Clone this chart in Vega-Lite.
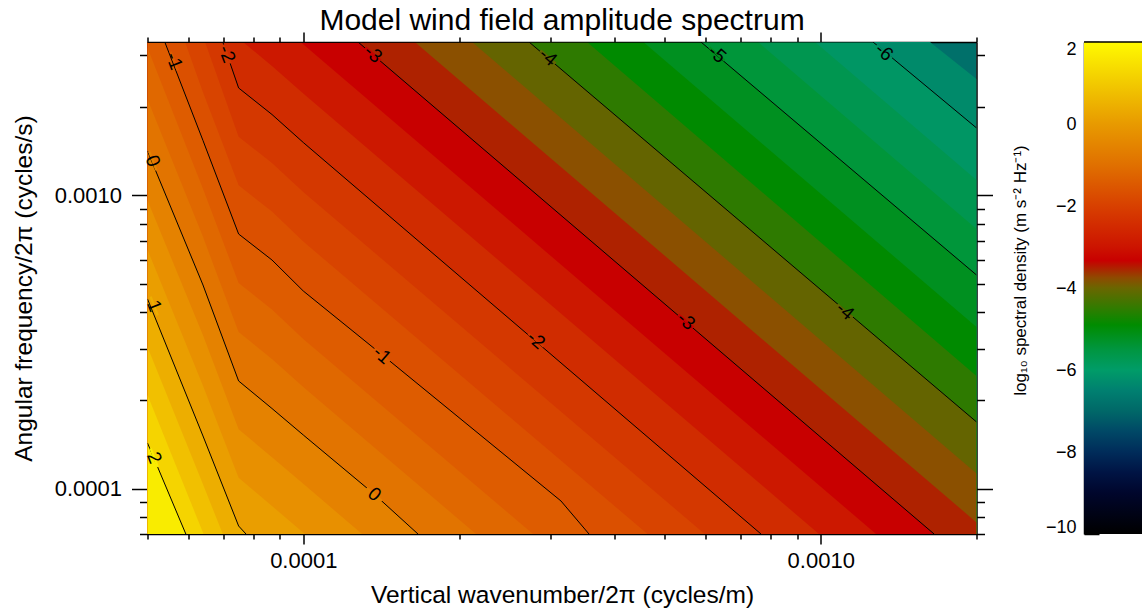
{
  "$schema": "https://vega.github.io/schema/vega-lite/v6.json",
  "background": "white",
  "autosize": {"type": "pad"},
  "padding": {"left": 10.5, "top": 6, "right": 0, "bottom": 4},
  "config": {
    "font": "Liberation Sans",
    "view": {"stroke": null},
    "axis": {"domainColor": "black", "tickColor": "black", "labelColor": "black", "titleColor": "black", "grid": false, "labelFont": "Liberation Sans", "titleFont": "Liberation Sans", "titleFontWeight": "normal", "domainWidth": 1.5, "tickWidth": 1.5, "labelFlush": false, "labelOverlap": false}
  },
  "datasets": {
    "bands": [
      {"lvl": -6.333, "k": 5e-5, "w": 3.33e-3}, {"lvl": -6.333, "k": 1.626e-3, "w": 3.33e-3}, {"lvl": -6.333, "k": 2e-3, "w": 2.491e-3},
      {"lvl": -6, "k": 5e-5, "w": 3.33e-3}, {"lvl": -6, "k": 1.262e-3, "w": 3.33e-3}, {"lvl": -6, "k": 2e-3, "w": 1.696e-3},
      {"lvl": -5.667, "k": 5e-5, "w": 3.33e-3}, {"lvl": -5.667, "k": 9.748e-4, "w": 3.33e-3}, {"lvl": -5.667, "k": 2e-3, "w": 1.127e-3},
      {"lvl": -5.333, "k": 5e-5, "w": 3.33e-3}, {"lvl": -5.333, "k": 7.564e-4, "w": 3.33e-3}, {"lvl": -5.333, "k": 2e-3, "w": 7.673e-4},
      {"lvl": -5, "k": 5e-5, "w": 3.33e-3}, {"lvl": -5, "k": 5.869e-4, "w": 3.33e-3}, {"lvl": -5, "k": 2e-3, "w": 5.347e-4},
      {"lvl": -4.667, "k": 5e-5, "w": 3.33e-3}, {"lvl": -4.667, "k": 4.541e-4, "w": 3.33e-3}, {"lvl": -4.667, "k": 2e-3, "w": 3.555e-4},
      {"lvl": -4.333, "k": 5e-5, "w": 3.33e-3}, {"lvl": -4.333, "k": 3.535e-4, "w": 3.33e-3}, {"lvl": -4.333, "k": 2e-3, "w": 2.420e-4},
      {"lvl": -4, "k": 5e-5, "w": 3.33e-3}, {"lvl": -4, "k": 2.731e-4, "w": 3.33e-3}, {"lvl": -4, "k": 2e-3, "w": 1.687e-4},
      {"lvl": -3.667, "k": 5e-5, "w": 3.33e-3}, {"lvl": -3.667, "k": 2.119e-4, "w": 3.33e-3}, {"lvl": -3.667, "k": 2e-3, "w": 1.126e-4},
      {"lvl": -3.333, "k": 5e-5, "w": 3.33e-3}, {"lvl": -3.333, "k": 1.643e-4, "w": 3.33e-3}, {"lvl": -3.333, "k": 2e-3, "w": 7.668e-5},
      {"lvl": -3, "k": 5e-5, "w": 3.33e-3}, {"lvl": -3, "k": 1.276e-4, "w": 3.33e-3}, {"lvl": -3, "k": 1.656e-3, "w": 7e-5},
      {"lvl": -2.667, "k": 5e-5, "w": 3.33e-3}, {"lvl": -2.667, "k": 9.88e-5, "w": 3.33e-3}, {"lvl": -2.667, "k": 1.279e-3, "w": 7e-5},
      {"lvl": -2.333, "k": 5e-5, "w": 3.33e-3}, {"lvl": -2.333, "k": 7.65e-5, "w": 3.33e-3}, {"lvl": -2.333, "k": 8.70e-5, "w": 2.759e-3}, {"lvl": -2.333, "k": 1e-4, "w": 2.223e-3}, {"lvl": -2.333, "k": 9.923e-4, "w": 7e-5},
      {"lvl": -2, "k": 5e-5, "w": 3.33e-3}, {"lvl": -2, "k": 6.99e-5, "w": 3.33e-3}, {"lvl": -2, "k": 7.50e-5, "w": 2.321e-3}, {"lvl": -2, "k": 8.70e-5, "w": 1.885e-3}, {"lvl": -2, "k": 1e-4, "w": 1.513e-3}, {"lvl": -2, "k": 7.666e-4, "w": 7e-5},
      {"lvl": -1.667, "k": 5e-5, "w": 3.33e-3}, {"lvl": -1.667, "k": 6.46e-5, "w": 3.33e-3}, {"lvl": -1.667, "k": 7.50e-5, "w": 1.584e-3}, {"lvl": -1.667, "k": 8.70e-5, "w": 1.288e-3}, {"lvl": -1.667, "k": 1e-4, "w": 1.026e-3}, {"lvl": -1.667, "k": 5.967e-4, "w": 7e-5},
      {"lvl": -1.333, "k": 5e-5, "w": 3.33e-3}, {"lvl": -1.333, "k": 5.91e-5, "w": 3.33e-3}, {"lvl": -1.333, "k": 6.40e-5, "w": 2.244e-3}, {"lvl": -1.333, "k": 7.50e-5, "w": 1.081e-3}, {"lvl": -1.333, "k": 8.70e-5, "w": 8.802e-4}, {"lvl": -1.333, "k": 1e-4, "w": 6.955e-4}, {"lvl": -1.333, "k": 4.627e-4, "w": 7e-5},
      {"lvl": -1, "k": 5e-5, "w": 3.33e-3}, {"lvl": -1, "k": 5.40e-5, "w": 3.33e-3}, {"lvl": -1, "k": 6.40e-5, "w": 1.537e-3}, {"lvl": -1, "k": 7.50e-5, "w": 7.376e-4}, {"lvl": -1, "k": 8.70e-5, "w": 6.015e-4}, {"lvl": -1, "k": 1e-4, "w": 4.716e-4}, {"lvl": -1, "k": 1.445e-4, "w": 2.788e-4}, {"lvl": -1, "k": 3.148e-4, "w": 9.070e-5}, {"lvl": -1, "k": 3.566e-4, "w": 7e-5},
      {"lvl": -0.667, "k": 5e-5, "w": 3.185e-3}, {"lvl": -0.667, "k": 6.40e-5, "w": 1.053e-3}, {"lvl": -0.667, "k": 7.50e-5, "w": 5.021e-4}, {"lvl": -0.667, "k": 8.70e-5, "w": 4.078e-4}, {"lvl": -0.667, "k": 1e-4, "w": 3.235e-4}, {"lvl": -0.667, "k": 2.780e-4, "w": 7e-5},
      {"lvl": -0.333, "k": 5e-5, "w": 2.124e-3}, {"lvl": -0.333, "k": 6.40e-5, "w": 7.216e-4}, {"lvl": -0.333, "k": 7.50e-5, "w": 3.418e-4}, {"lvl": -0.333, "k": 8.70e-5, "w": 2.766e-4}, {"lvl": -0.333, "k": 1e-4, "w": 2.220e-4}, {"lvl": -0.333, "k": 2.157e-4, "w": 7e-5},
      {"lvl": 0, "k": 5e-5, "w": 1.415e-3}, {"lvl": 0, "k": 6.40e-5, "w": 4.943e-4}, {"lvl": 0, "k": 7.50e-5, "w": 2.327e-4}, {"lvl": 0, "k": 8.70e-5, "w": 1.875e-4}, {"lvl": 0, "k": 1e-4, "w": 1.523e-4}, {"lvl": 0, "k": 1.370e-4, "w": 9.583e-5}, {"lvl": 0, "k": 1.666e-4, "w": 7e-5},
      {"lvl": 0.333, "k": 5e-5, "w": 9.611e-4}, {"lvl": 0.333, "k": 6.40e-5, "w": 3.331e-4}, {"lvl": 0.333, "k": 7.50e-5, "w": 1.593e-4}, {"lvl": 0.333, "k": 8.70e-5, "w": 1.278e-4}, {"lvl": 0.333, "k": 1e-4, "w": 1.038e-4}, {"lvl": 0.333, "k": 1.299e-4, "w": 7e-5},
      {"lvl": 0.667, "k": 5e-5, "w": 6.524e-4}, {"lvl": 0.667, "k": 6.40e-5, "w": 2.243e-4}, {"lvl": 0.667, "k": 7.50e-5, "w": 1.089e-4}, {"lvl": 0.667, "k": 8.70e-5, "w": 8.721e-5}, {"lvl": 0.667, "k": 1.007e-4, "w": 7e-5},
      {"lvl": 1, "k": 5e-5, "w": 4.430e-4}, {"lvl": 1, "k": 6.40e-5, "w": 1.511e-4}, {"lvl": 1, "k": 7.50e-5, "w": 7.454e-5}, {"lvl": 1, "k": 7.75e-5, "w": 7e-5},
      {"lvl": 1.333, "k": 5e-5, "w": 3.038e-4}, {"lvl": 1.333, "k": 6.40e-5, "w": 1.034e-4}, {"lvl": 1.333, "k": 6.99e-5, "w": 7e-5},
      {"lvl": 1.667, "k": 5e-5, "w": 2.085e-4}, {"lvl": 1.667, "k": 6.415e-5, "w": 7e-5},
      {"lvl": 2, "k": 5e-5, "w": 1.430e-4}, {"lvl": 2, "k": 5.93e-5, "w": 7e-5}
    ],
    "labelsSteep": [
      {"k": 5.63e-5, "w": 2.869e-3, "lvl": -1, "t": "-1"},
      {"k": 7.12e-5, "w": 3.031e-3, "lvl": -2, "t": "-2"},
      {"k": 5.12e-5, "w": 1.309e-3, "lvl": 0, "t": "0"},
      {"k": 5.15e-5, "w": 4.191e-4, "lvl": 1, "t": "1"},
      {"k": 5.15e-5, "w": 1.274e-4, "lvl": 2, "t": "2"}
    ],
    "labelsDiag": [
      {"k": 1.364e-4, "w": 3.031e-3, "lvl": -3, "t": "-3"},
      {"k": 2.971e-4, "w": 2.960e-3, "lvl": -4, "t": "-4"},
      {"k": 6.302e-4, "w": 3.031e-3, "lvl": -5, "t": "-5"},
      {"k": 1.325e-3, "w": 3.079e-3, "lvl": -6, "t": "-6"},
      {"k": 1.372e-4, "w": 9.560e-5, "lvl": 0, "t": "0"},
      {"k": 1.420e-4, "w": 2.853e-4, "lvl": -1, "t": "-1"},
      {"k": 2.817e-4, "w": 3.210e-4, "lvl": -2, "t": "-2"},
      {"k": 5.490e-4, "w": 3.726e-4, "lvl": -3, "t": "-3"},
      {"k": 1.114e-3, "w": 4.030e-4, "lvl": -4, "t": "-4"}
    ],
    "cbar": [{"lo": -10, "hi": 2}]
  },
  "hconcat": [
    {
      "width": 829,
      "height": 492,
      "title": {"text": "Model wind field amplitude spectrum", "fontSize": 30, "font": "Liberation Sans", "fontWeight": "normal", "color": "black", "offset": -5},
      "view": {"fill": "#00706A", "stroke": null},
      "layer": [
        {
          "data": {"name": "bands"},
          "mark": {"type": "area", "clip": true, "interpolate": "linear"},
          "encoding": {
            "x": {"field": "k", "type": "quantitative", "scale": {"type": "log", "domain": [5e-5, 2e-3], "nice": false},
              "axis": {"orient": "bottom", "values": [5e-5, 6e-5, 7e-5, 8e-5, 9e-5, 1e-4, 2e-4, 3e-4, 4e-4, 5e-4, 6e-4, 7e-4, 8e-4, 9e-4, 1e-3, 2e-3],
                "labelExpr": "abs(datum.value-0.0001)<1e-9 ? '0.0001' : (abs(datum.value-0.001)<1e-9 ? '0.0010' : '')",
                "tickSize": {"condition": {"test": "abs(datum.value-0.0001)<1e-9 || abs(datum.value-0.001)<1e-9", "value": 10}, "value": 5},
                "labelFontSize": 22, "labelPadding": 6, "title": "Vertical wavenumber/2π (cycles/m)", "titleFontSize": 24.5, "titlePadding": 12}},
            "y": {"field": "w", "type": "quantitative", "scale": {"type": "log", "domain": [7e-5, 3.33e-3], "nice": false},
              "axis": {"orient": "left", "values": [7e-5, 8e-5, 9e-5, 1e-4, 2e-4, 3e-4, 4e-4, 5e-4, 6e-4, 7e-4, 8e-4, 9e-4, 1e-3, 2e-3, 3e-3],
                "labelExpr": "abs(datum.value-0.0001)<1e-9 ? '0.0001' : (abs(datum.value-0.001)<1e-9 ? '0.0010' : '')",
                "tickSize": {"condition": {"test": "abs(datum.value-0.0001)<1e-9 || abs(datum.value-0.001)<1e-9", "value": 16}, "value": 8},
                "labelFontSize": 22, "labelPadding": 10, "title": "Angular frequency/2π (cycles/s)", "titleFontSize": 24.5, "titlePadding": 18}},
            "y2": {"datum": 1e-5},
            "color": {"field": "lvl", "type": "nominal", "legend": null,
              "scale": {"domain": [-6.333, -6, -5.667, -5.333, -5, -4.667, -4.333, -4, -3.667, -3.333, -3, -2.667, -2.333, -2, -1.667, -1.333, -1, -0.667, -0.333, 0, 0.333, 0.667, 1, 1.333, 1.667, 2],
                "range": ["#008A6A", "#009664", "#009650", "#00963A", "#009020", "#008A00", "#2E7A00", "#646400", "#8B5000", "#AE2200", "#C80000", "#CC1800", "#D02C00", "#D43800", "#D84400", "#DB5000", "#DE5C00", "#E06800", "#E27400", "#E58200", "#E89000", "#EA9E00", "#EDAE00", "#F1C000", "#F5D400", "#F9EC00"]}}
          }
        },
        {
          "data": {"name": "bands"},
          "transform": [{"filter": "abs(datum.lvl - round(datum.lvl)) < 0.01"}],
          "mark": {"type": "line", "clip": true, "color": "black", "strokeWidth": 1},
          "encoding": {
            "x": {"field": "k", "type": "quantitative",
              "axis": {"orient": "top", "values": [5e-5, 6e-5, 7e-5, 8e-5, 9e-5, 1e-4, 2e-4, 3e-4, 4e-4, 5e-4, 6e-4, 7e-4, 8e-4, 9e-4, 1e-3, 2e-3], "labels": false, "title": null,
                "tickSize": {"condition": {"test": "abs(datum.value-0.0001)<1e-9 || abs(datum.value-0.001)<1e-9", "value": 10}, "value": 5}}},
            "y": {"field": "w", "type": "quantitative",
              "axis": {"orient": "right", "values": [7e-5, 8e-5, 9e-5, 1e-4, 2e-4, 3e-4, 4e-4, 5e-4, 6e-4, 7e-4, 8e-4, 9e-4, 1e-3, 2e-3, 3e-3], "labels": false, "title": null,
                "tickSize": {"condition": {"test": "abs(datum.value-0.0001)<1e-9 || abs(datum.value-0.001)<1e-9", "value": 16}, "value": 8}}},
            "detail": {"field": "lvl", "type": "nominal"}
          }
        },
        {
          "data": {"name": "labelsSteep"},
          "mark": {"type": "point", "shape": "M-1,-0.12L1,-0.12L1,0.12L-1,0.12Z", "angle": 69, "size": 400, "filled": true, "opacity": 1, "strokeWidth": 0},
          "encoding": {
            "x": {"field": "k", "type": "quantitative", "axis": null},
            "y": {"field": "w", "type": "quantitative", "axis": null},
            "color": {"field": "lvl", "type": "nominal", "legend": null}
          }
        },
        {
          "data": {"name": "labelsDiag"},
          "mark": {"type": "point", "shape": "M-1,-0.12L1,-0.12L1,0.12L-1,0.12Z", "angle": 40.5, "size": 400, "filled": true, "opacity": 1, "strokeWidth": 0},
          "encoding": {
            "x": {"field": "k", "type": "quantitative", "axis": null},
            "y": {"field": "w", "type": "quantitative", "axis": null},
            "color": {"field": "lvl", "type": "nominal", "legend": null}
          }
        },
        {
          "data": {"name": "labelsSteep"},
          "mark": {"type": "text", "angle": 69, "fontSize": 19, "font": "Liberation Sans", "color": "black", "align": "center", "baseline": "middle"},
          "encoding": {
            "x": {"field": "k", "type": "quantitative", "axis": null},
            "y": {"field": "w", "type": "quantitative", "axis": null},
            "text": {"field": "t"}
          }
        },
        {
          "data": {"name": "labelsDiag"},
          "mark": {"type": "text", "angle": 40.5, "fontSize": 19, "font": "Liberation Sans", "color": "black", "align": "center", "baseline": "middle"},
          "encoding": {
            "x": {"field": "k", "type": "quantitative", "axis": null},
            "y": {"field": "w", "type": "quantitative", "axis": null},
            "text": {"field": "t"}
          }
        }
      ],
      "resolve": {"axis": {"x": "independent", "y": "independent"}}
    },
    {
      "width": 59,
      "height": 492,
      "data": {"name": "cbar"},
      "layer": [
        {
          "mark": {"type": "rect", "fill": {"gradient": "linear", "x1": 0, "y1": 1, "x2": 0, "y2": 0,
            "stops": [
              {"offset": 0, "color": "#000000"},
              {"offset": 0.0833, "color": "#00062C"},
              {"offset": 0.125, "color": "#001444"},
              {"offset": 0.1667, "color": "#002C5A"},
              {"offset": 0.2083, "color": "#004866"},
              {"offset": 0.25, "color": "#006868"},
              {"offset": 0.2917, "color": "#008070"},
              {"offset": 0.3333, "color": "#009C68"},
              {"offset": 0.375, "color": "#009640"},
              {"offset": 0.425, "color": "#008C00"},
              {"offset": 0.4583, "color": "#307C00"},
              {"offset": 0.5, "color": "#6A6600"},
              {"offset": 0.5208, "color": "#8E4A00"},
              {"offset": 0.5558, "color": "#C80000"},
              {"offset": 0.5833, "color": "#CC1400"},
              {"offset": 0.6667, "color": "#D84000"},
              {"offset": 0.75, "color": "#E07000"},
              {"offset": 0.8333, "color": "#E89A00"},
              {"offset": 0.9167, "color": "#F2CA00"},
              {"offset": 1, "color": "#FFFA00"}
            ]}},
          "encoding": {
            "y": {"field": "lo", "type": "quantitative", "scale": {"domain": [-10, 2], "nice": false, "zero": false},
              "axis": {"orient": "left", "values": [-10, -9, -8, -7, -6, -5, -4, -3, -2, -1, 0, 1, 2],
                "tickSize": {"condition": {"test": "datum.value % 2 == 0", "value": -15}, "value": -7},
                "labelExpr": "datum.value % 2 == 0 ? datum.label : ''",
                "labelFlush": true, "labelFlushOffset": 2,
                "labelPadding": 23, "labelFontSize": 18,
                "title": "log₁₀ spectral density (m s⁻² Hz⁻¹)", "titleFontSize": 17, "titlePadding": 16, "titleY": 228}},
            "y2": {"field": "hi"}
          }
        },
        {
          "mark": {"type": "rule", "color": "black", "strokeWidth": 1.5},
          "encoding": {"y": {"field": "hi", "type": "quantitative"}}
        }
      ]
    }
  ],
  "spacing": 107.5,
  "bounds": "flush"
}
